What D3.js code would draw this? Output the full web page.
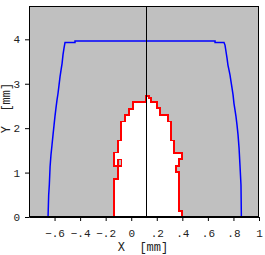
<!DOCTYPE html>
<html><head><meta charset="utf-8">
<script src="https://cdn.jsdelivr.net/npm/d3@7"></script>
<style>html,body{margin:0;padding:0;background:#fff;}svg{display:block;}</style>
</head><body>
<svg id="c" width="265" height="255"></svg>
<script>
// Blue limit curve (x in mm, y in mm)
const blueX = [-0.651,-0.646,-0.641,-0.635,-0.628,-0.620,-0.612,-0.604,-0.597,-0.589,-0.581,-0.573,-0.565,-0.557,-0.549,-0.541,-0.534,-0.526,-0.518,-0.44,-0.44,0.656,0.656,0.726,0.734,0.742,0.750,0.757,0.765,0.773,0.781,0.789,0.797,0.804,0.812,0.820,0.828,0.836,0.844,0.851,0.859,0.862];
const blueY = [0,0.495,0.72,1.13,1.40,1.62,1.85,2.07,2.26,2.45,2.63,2.78,2.97,3.16,3.31,3.46,3.65,3.80,3.93,3.93,3.96,3.96,3.93,3.93,3.87,3.72,3.57,3.42,3.31,3.20,3.05,2.90,2.75,2.56,2.41,2.26,2.07,1.85,1.55,1.17,0.72,0];
// Red stepped outline of the white region
const redX = [-0.134,-0.134,-0.103,-0.103,-0.134,-0.134,-0.103,-0.103,-0.077,-0.077,-0.046,-0.046,-0.020,-0.020,0.012,0.012,0.116,0.116,0.142,0.142,0.153,0.153,0.202,0.202,0.228,0.228,0.288,0.288,0.311,0.311,0.337,0.337,0.399,0.399,0.373,0.373,0.349,0.349,0.373,0.373,0.399,0.399];
const redY = [0,0.85,0.85,1.15,1.15,1.45,1.45,1.72,1.72,2.15,2.15,2.30,2.30,2.44,2.44,2.58,2.58,2.72,2.72,2.67,2.67,2.58,2.58,2.45,2.45,2.30,2.30,2.15,2.15,1.72,1.72,1.44,1.44,1.30,1.30,1.15,1.15,1.02,1.02,0.14,0.14,0];
// small hole inside the region
const holeX = [-0.103,-0.077];
const holeY = [1.15,1.30];
// vertical reference line
const crossX = [0.112];
const xTicks = [-0.6,-0.4,-0.2,0,0.2,0.4,0.6,0.8,1];
const yTicks = [0,1,2,3,4];
const xDomain = [-0.8,1.0];
const yDomain = [0,4.75];
const xLabel = "X  [mm]";
const yLabel = "Y  [mm]";

const L=29,R=259,T=6,B=217;
const svg=d3.select("#c");
const x=d3.scaleLinear().domain(xDomain).range([L,R]);
const y=d3.scaleLinear().domain(yDomain).range([B,T]);
const font="'Liberation Mono', 'DejaVu Sans Mono', monospace";

svg.append("rect").attr("x",L).attr("y",T).attr("width",R-L).attr("height",B-T).attr("fill","#c0c0c0");

const redPts=redX.map((v,i)=>[v,redY[i]]);
const line=d3.line().x(d=>x(d[0])).y(d=>y(d[1]));
svg.append("path").attr("d",line(redPts)+"Z").attr("fill","#fff").attr("stroke","none");
svg.append("path").attr("d",line(redPts)).attr("fill","none").attr("stroke","#ff0000").attr("stroke-width",1.8).attr("shape-rendering","crispEdges");
svg.append("rect").attr("x",x(holeX[0])).attr("y",y(holeY[1])).attr("width",x(holeX[1])-x(holeX[0])).attr("height",y(holeY[0])-y(holeY[1]))
  .attr("fill","#c0c0c0").attr("stroke","#ff0000").attr("stroke-width",1.5).attr("shape-rendering","crispEdges");

const bluePts=blueX.map((v,i)=>[v,blueY[i]]);
svg.append("path").attr("d",line(bluePts)).attr("fill","none").attr("stroke","#0000ff").attr("stroke-width",1.5);

svg.selectAll(".vl").data(crossX).enter().append("line").attr("x1",d=>Math.round(x(d))+0.5).attr("x2",d=>Math.round(x(d))+0.5).attr("y1",T).attr("y2",B).attr("stroke","#000").attr("stroke-width",1);

svg.append("rect").attr("x",L+0.5).attr("y",T+0.5).attr("width",R-L-1).attr("height",B-T-1).attr("fill","none").attr("stroke","#000").attr("stroke-width",1);

const fmtX=d=>{ if(d===0) return "0"; if(Math.abs(d)===1) return (d<0?"\u2212":"")+"1"; const s=Math.abs(d).toFixed(1).replace(/^0/,""); return (d<0?"\u2212":"")+s; };
const gx=svg.append("g").attr("transform",`translate(0,${B})`).call(d3.axisBottom(x).tickValues(xTicks).tickSize(4).tickSizeOuter(0).tickFormat(fmtX));
gx.select(".domain").attr("stroke","#000");
gx.selectAll("text").attr("y",20).attr("dy",0).attr("font-family",font).attr("font-size",11).attr("fill","#222");
const gy=svg.append("g").attr("transform",`translate(${L},0)`).call(d3.axisLeft(y).tickValues(yTicks).tickSize(4).tickSizeOuter(0).tickFormat(d3.format("d")));
gy.selectAll("text").attr("x",-9).attr("font-family",font).attr("font-size",11).attr("fill","#222");

svg.append("text").attr("x",(L+R)/2-1).attr("y",251).attr("text-anchor","middle").attr("font-family",font).attr("font-size",12).attr("fill","#222").style("white-space","pre").text(xLabel);
svg.append("text").attr("transform","translate(10,108) rotate(-90)").attr("text-anchor","middle").attr("font-family",font).attr("font-size",12).attr("fill","#222").style("white-space","pre").text(yLabel);
</script>
</body></html>
